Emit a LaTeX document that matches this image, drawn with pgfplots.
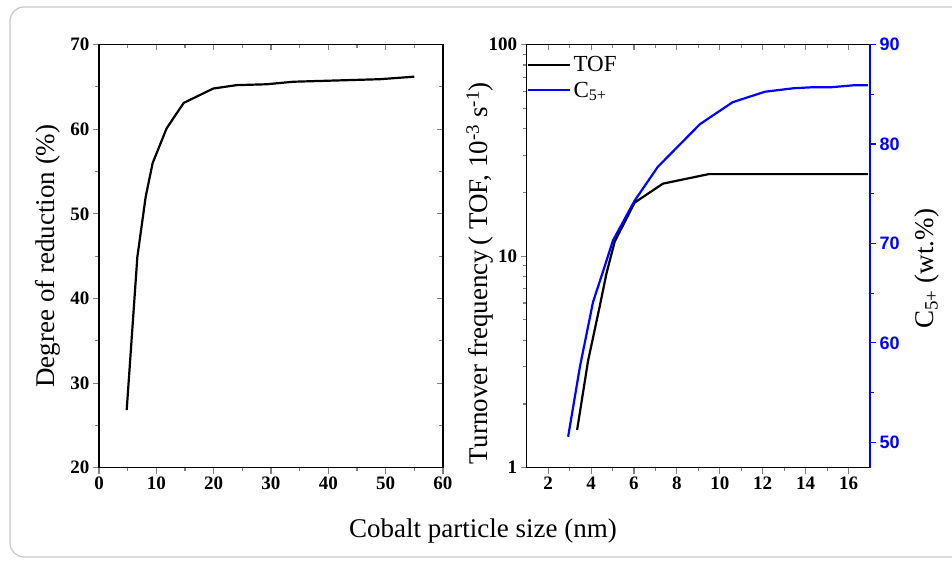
\documentclass[border=0pt]{standalone}
\usepackage{fontspec}
\setmainfont{Liberation Serif}
\newfontfamily\arialfont{Liberation Sans}
\usepackage{pgfplots}
\pgfplotsset{compat=1.18}

\definecolor{framegray}{gray}{0.78}
\definecolor{cblue}{RGB}{0,0,255}

\pgfplotsset{
  dims/.style={scale only axis, anchor=south west, height=423.2bp},
  look/.style={
    axis line style={line width=1.3bp},
    major tick length=6bp, minor tick length=3.5bp,
    every tick/.append style={line width=1.1bp},
    /pgf/number format/assume math mode=true,
    tick label style={font=\fontsize{19bp}{19bp}\selectfont\bfseries},
    label style={font=\fontsize{27bp}{30bp}\selectfont},
  },
}

\begin{document}
\begin{tikzpicture}
\useasboundingbox (0,0) rectangle (952bp,562bp);
\draw[framegray, line width=1.2bp, rounded corners=14bp] (10bp,5bp) rectangle (990bp,555bp);

% left panel: degree of reduction
\begin{axis}[dims, look, at={(99bp,94.3bp)}, width=344bp,
  xmin=0, xmax=60, ymin=20, ymax=70,
  xtick={0,10,...,60}, ytick={20,30,...,70},
  minor x tick num=1, minor y tick num=1,
  xtick pos=bottom, ytick pos=left, tick align=outside,
  ylabel={Degree of reduction (\%)},
  ylabel style={at={(axis description cs:-0.128,0.5)}, anchor=base},
]
  \addplot[black, line width=2.2bp] coordinates {
    (4.83,26.8)(6.69,44.9)(8.14,52.0)(9.36,56.0)(11.8,60.1)(14.77,63.1)
    (19.94,64.8)(24.0,65.2)(29.2,65.3)(33.9,65.6)(49.0,65.9)(55.0,66.2)};
\end{axis}
\begin{axis}[dims, look, at={(99bp,94.3bp)}, width=344bp,
  xmin=0, xmax=60, ymin=20, ymax=70,
  xtick={0,10,...,60}, ytick={20,30,...,70},
  minor x tick num=1, minor y tick num=1,
  xtick pos=top, ytick pos=right, tick align=inside,
  xticklabels={}, yticklabels={},
]
\end{axis}

% right panel: TOF (log) and C5+
\begin{axis}[dims, look, at={(526.7bp,94.3bp)}, width=343.3bp,
  ymode=log, xmin=1, xmax=17, ymin=1, ymax=100,
  xtick={2,4,...,16}, ytick={1,10,100}, minor x tick num=1,
  log ticks with fixed point,
  xtick pos=bottom, ytick pos=left, tick align=outside,
  ylabel={Turnover frequency\,( TOF, 10\textsuperscript{-3} s\textsuperscript{-1})},
  ylabel style={at={(axis description cs:-0.113,0.46)}, anchor=base},
  legend style={draw=none, fill=none, at={(0.0,0.982)}, anchor=north west,
    font=\fontsize{23bp}{23bp}\selectfont, row sep=5bp,
    inner xsep=0bp, inner ysep=2bp,
    nodes={inner xsep=2.5bp}},
  legend cell align=left,
  legend image code/.code={\draw[#1] (3bp,0bp) -- (45bp,0bp);},
]
  \addplot[black, line width=2.2bp] coordinates {
    (3.35,1.51)(3.86,3.2)(4.40,5.77)(4.72,8.3)(5.10,11.7)(6.03,17.9)
    (7.35,22.0)(9.48,24.4)(16.9,24.4)};
  \addlegendentry{TOF}
  \addlegendimage{cblue, line width=2.2bp}
  \addlegendentry{C\textsubscript{5+}}
\end{axis}
\begin{axis}[dims, look, at={(526.7bp,94.3bp)}, width=343.3bp,
  xmin=1, xmax=17, ymin=0, ymax=1,
  xtick={2,4,...,16}, minor x tick num=1, ytick=\empty,
  xtick pos=top, tick align=inside, xticklabels={},
  axis y line=none,
]
\end{axis}
\begin{axis}[dims, look, at={(526.7bp,94.3bp)}, width=343.3bp,
  xmin=1, xmax=17, ymin=47.45, ymax=90,
  axis x line=none, axis y line*=right,
  ytick={50,60,...,90}, minor y tick num=1, tick align=outside,
  y axis line style={cblue, line width=1.3bp},
  ytick style={cblue}, minor y tick style={cblue},
  yticklabel style={cblue, font=\arialfont\bfseries\fontsize{18bp}{18bp}\selectfont},
  ylabel={C\textsubscript{5+} (wt.\%)},
  ylabel style={at={(axis description cs:1.186,0.47)}, anchor=base},
]
  \addplot[cblue, line width=2.2bp] coordinates {
    (2.93,50.56)(3.48,57.6)(4.09,64.1)(4.56,67.2)(5.02,70.3)(6.03,74.3)
    (7.11,77.7)(9.08,82.0)(10.6,84.2)(12.1,85.25)(13.43,85.6)(14.3,85.7)
    (15.17,85.7)(16.25,85.9)(16.9,85.9)};
\end{axis}

\node[font=\fontsize{27bp}{30bp}\selectfont, anchor=base] at (483bp,25bp) {Cobalt particle size (nm)};
\end{tikzpicture}
\end{document}
